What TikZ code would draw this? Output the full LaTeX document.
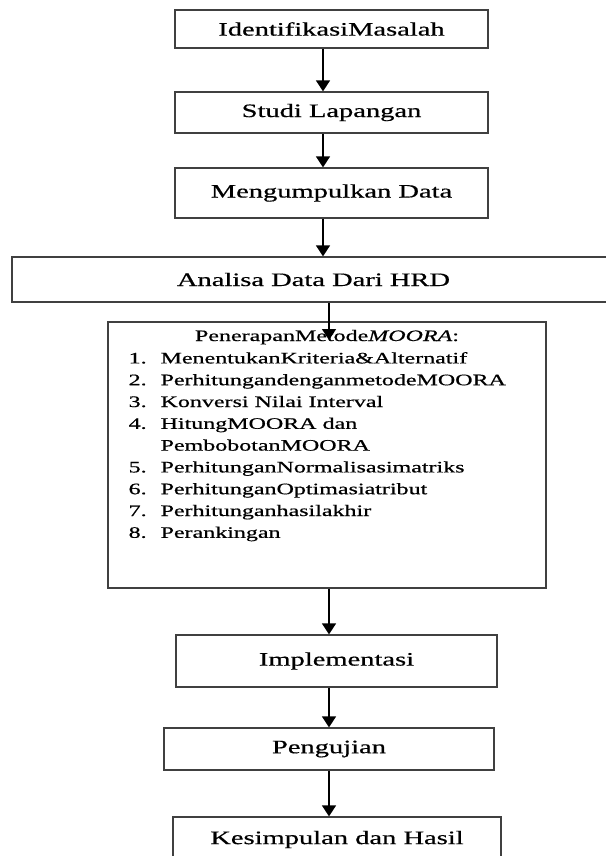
\documentclass[tikz,border=0pt]{standalone}
\usepackage{fontspec}
\setmainfont{Liberation Serif}[FakeBold=0.5]
\usetikzlibrary{arrows.meta,positioning}
\newcommand{\wide}[1]{\scalebox{1.5}[1]{#1}}

\begin{document}
\begin{tikzpicture}
[x=1pt, y=-1pt, line width=1.3pt,
  stepbox/.style={rectangle, draw=black!75, inner sep=0pt, font=\fontsize{19}{22}\selectfont},
  flow/.style={draw=black, line width=1.7pt, -{Triangle[width=14pt,length=11pt]}},
  listtext/.style={inner sep=0pt, font=\fontsize{16}{21.8}\selectfont}
]
  \useasboundingbox (0,0) rectangle (605,856);

  \node[stepbox, minimum width=313pt, minimum height=38pt] (identifikasi) at (331.5,29) {\wide{IdentifikasiMasalah}};
  \node[stepbox, minimum width=313pt, minimum height=41pt] (studi) at (331.5,112.5) {\wide{Studi Lapangan}};
  \node[stepbox, minimum width=313pt, minimum height=50pt] (kumpul) at (331.5,193) {\wide{Mengumpulkan Data}};
  \node[stepbox, minimum width=603pt, minimum height=45pt] (analisa) at (313.5,279.5) {\wide{Analisa Data Dari HRD}};
  \node[stepbox, minimum width=438pt, minimum height=266pt] (moora) at (327,455) {};
  \node[stepbox, minimum width=321pt, minimum height=52pt] (implementasi) at (336.5,661) {\wide{Implementasi}};
  \node[stepbox, minimum width=330pt, minimum height=42pt] (pengujian) at (329,749) {\wide{Pengujian}};
  \node[stepbox, minimum width=328pt, minimum height=45pt] (kesimpulan) at (337,839.5) {\wide{Kesimpulan dan Hasil}};

  \node[listtext, anchor=base] (mooratitle) at (327,341) {\wide{PenerapanMetode\textit{MOORA}:}};
  \node[listtext, anchor=north west] (mooralist) at (128,347.5) {\wide{%
    \begin{tabular}{@{}l@{}l@{}}
    \makebox[21.3pt][l]{1.} & MenentukanKriteria\&Alternatif\\
    \makebox[21.3pt][l]{2.} & PerhitungandenganmetodeMOORA\\
    \makebox[21.3pt][l]{3.} & Konversi Nilai Interval\\
    \makebox[21.3pt][l]{4.} & HitungMOORA dan\\
                            & PembobotanMOORA\\
    \makebox[21.3pt][l]{5.} & PerhitunganNormalisasimatriks\\
    \makebox[21.3pt][l]{6.} & PerhitunganOptimasiatribut\\
    \makebox[21.3pt][l]{7.} & Perhitunganhasilakhir\\
    \makebox[21.3pt][l]{8.} & Perankingan
    \end{tabular}}};

  \coordinate (upper) at (323,0);
  \coordinate (lower) at (329,0);
  \coordinate (mooratip) at (329,340);

  \draw[flow] (identifikasi.south -| upper) -- (studi.north -| upper);
  \draw[flow] (studi.south -| upper) -- (kumpul.north -| upper);
  \draw[flow] (kumpul.south -| upper) -- (analisa.north -| upper);
  \draw[flow] (analisa.south -| lower) -- (mooratip);
  \draw[flow] (moora.south -| lower) -- (implementasi.north -| lower);
  \draw[flow] (implementasi.south -| lower) -- (pengujian.north -| lower);
  \draw[flow] (pengujian.south -| lower) -- (kesimpulan.north -| lower);
\end{tikzpicture}
\end{document}
